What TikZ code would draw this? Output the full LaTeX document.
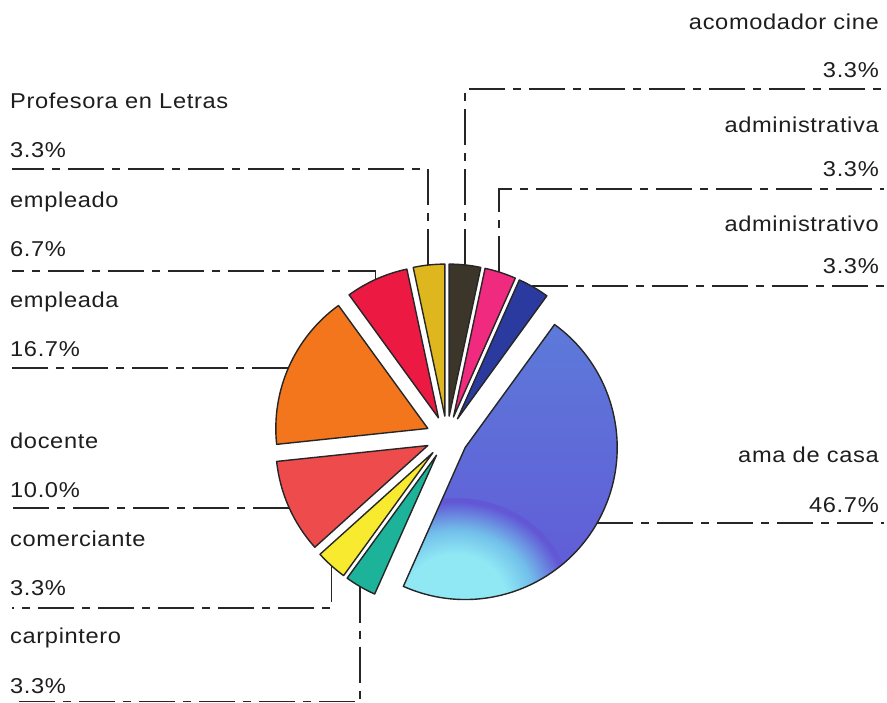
\documentclass[tikz,border=0pt]{standalone}
\usepackage{fontspec}
\setmainfont{Liberation Sans}[FakeStretch=1.1,LetterSpace=3]
\definecolor{txt}{HTML}{1E1E1E}
\definecolor{cAcom}{HTML}{3B3629}
\definecolor{cAdma}{HTML}{F02A7E}
\definecolor{cAdmo}{HTML}{2B3A9E}
\definecolor{cAmaTop}{HTML}{5C7FDA}
\definecolor{cAmaBot}{HTML}{6258D6}
\definecolor{cCyan}{HTML}{8FE8F4}
\definecolor{cCyanB}{HTML}{72BFEA}
\definecolor{cCarp}{HTML}{1DB39B}
\definecolor{cCom}{HTML}{F8EA2E}
\definecolor{cDoc}{HTML}{EE4C4C}
\definecolor{cEmpa}{HTML}{F3751C}
\definecolor{cEmpo}{HTML}{EC1A42}
\definecolor{cProf}{HTML}{DEB61E}
\pgfdeclareradialshading{cyanblob}{\pgfpoint{0bp}{0bp}}{color(0bp)=(cCyan); color(11bp)=(cCyan); color(17bp)=(cCyanB); color(24bp)=(cAmaBot); color(50bp)=(cAmaBot)}
% #1 mid angle, #2 start, #3 end, #4 path command with options
\newcommand{\pieslice}[4]{#4 (447pt,-437pt) ++(#1:21pt) -- ++(#2:152pt) arc[start angle=#2, end angle=#3, radius=152pt] -- cycle;}
\tikzset{
  lab/.style={font=\fontsize{21.5}{24}\selectfont, text=txt, inner sep=0pt},
  labL/.style={lab, anchor=base west},
  labR/.style={lab, anchor=base east},
  sliceline/.style={draw=black!85, line width=1.4pt, line join=round},
  leader/.style={draw=black!85, line width=1.3pt, dash pattern=on 36pt off 8pt on 8pt off 8pt}
}
\begin{document}
\begin{tikzpicture}[x=1pt,y=1pt]
\useasboundingbox (0,0) rectangle (887,-703);
\fill[white] (0,0) rectangle (887,-703);

% slices
\pieslice{84}{78}{90}{\path[sliceline, fill=cAcom]}
\pieslice{72}{66}{78}{\path[sliceline, fill=cAdma]}
\pieslice{60}{54}{66}{\path[sliceline, fill=cAdmo]}
\begin{scope}
  \pieslice{-30}{-114}{54}{\clip}
  \shade[top color=cAmaTop, bottom color=cAmaBot] (300,-280) rectangle (640,-610);
  \shade[shading=cyanblob] (455,-598) ellipse [x radius=115pt, y radius=100pt];
\end{scope}
\pieslice{-30}{-114}{54}{\path[sliceline]}
\pieslice{-120}{-126}{-114}{\path[sliceline, fill=cCarp]}
\pieslice{-132}{-138}{-126}{\path[sliceline, fill=cCom]}
\pieslice{-156}{-174}{-138}{\path[sliceline, fill=cDoc]}
\pieslice{156}{126}{186}{\path[sliceline, fill=cEmpa]}
\pieslice{114}{102}{126}{\path[sliceline, fill=cEmpo]}
\pieslice{96}{90}{102}{\path[sliceline, fill=cProf]}

% left labels
\node[labL] (tProf) at (10,-109) {Profesora en Letras};
\node[labL] (pProf) at (10,-158) {3.3\%};
\node[labL] (tEmpo) at (10,-208) {empleado};
\node[labL] (pEmpo) at (10,-257) {6.7\%};
\node[labL] (tEmpa) at (10,-308) {empleada};
\node[labL] (pEmpa) at (10,-357) {16.7\%};
\node[labL] (tDoc) at (10,-449) {docente};
\node[labL] (pDoc) at (10,-497) {10.0\%};
\node[labL] (tCom) at (10,-546) {comerciante};
\node[labL] (pCom) at (10,-595) {3.3\%};
\node[labL] (tCarp) at (10,-643) {carpintero};
\node[labL] (pCarp) at (10,-693) {3.3\%};

% right labels
\node[labR] (tAcom) at (879,-30) {acomodador cine};
\node[labR] (pAcom) at (879,-78) {3.3\%};
\node[labR] (tAdma) at (879,-133) {administrativa};
\node[labR] (pAdma) at (879,-177) {3.3\%};
\node[labR] (tAdmo) at (879,-232) {administrativo};
\node[labR] (pAdmo) at (879,-274) {3.3\%};
\node[labR] (tAma) at (879,-463) {ama de casa};
\node[labR] (pAma) at (879,-512) {46.7\%};

% leader end points
\coordinate (sProf) at (428,-265);   \coordinate (eProf) at (12,-169);
\coordinate (sEmpo) at (375.7,-279.4); \coordinate (eEmpo) at (12,-271);
\coordinate (sEmpa) at (288.4,-368); \coordinate (eEmpa) at (12,-368);
\coordinate (sDoc) at (289.2,-508);  \coordinate (eDoc) at (12,-508);
\coordinate (sCom) at (331.7,-566);  \coordinate (eCom) at (12,-608);
\coordinate (sCarp) at (360,-586.5); \coordinate (eCarp) at (12,-701.5);
\coordinate (sAcom) at (465,-264.9); \coordinate (eAcom) at (884,-89);
\coordinate (sAdma) at (499,-272);   \coordinate (eAdma) at (884,-189);
\coordinate (sAdmo) at (531.5,-286); \coordinate (eAdmo) at (884,-286);
\coordinate (sAma) at (597.1,-523);  \coordinate (eAma) at (884,-523);

% leaders
\draw[leader] (sProf) |- (eProf);
\draw[leader] (sEmpo) |- (eEmpo);
\draw[leader] (sEmpa) -- (eEmpa);
\draw[leader] (sDoc) -- (eDoc);
\draw[leader] (sCom) |- (eCom);
\draw[leader] (sCarp) |- (eCarp);
\draw[leader] (sAcom) |- (eAcom);
\draw[leader] (sAdma) |- (eAdma);
\draw[leader] (sAdmo) -- (eAdmo);
\draw[leader] (sAma) -- (eAma);
\end{tikzpicture}
\end{document}
